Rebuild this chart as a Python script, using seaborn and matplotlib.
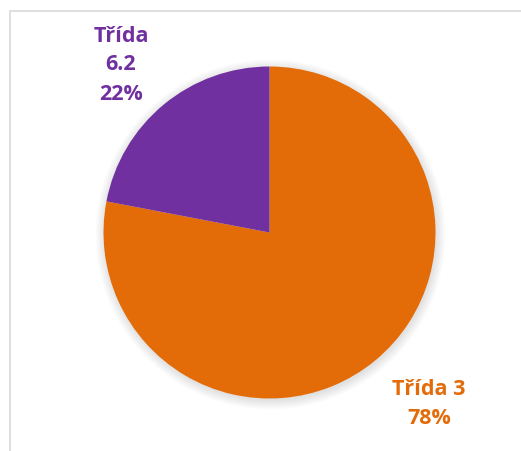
import matplotlib
matplotlib.use("Agg")
import matplotlib.pyplot as plt
import seaborn as sns
from matplotlib.patches import Circle, Rectangle

sns.set_theme(style="white")
plt.rcParams["font.family"] = ["Open Sans", "DejaVu Sans"]

# Share of classes
labels = ["Třída 3", "Třída 6.2"]
shares = [78, 22]
colors = ["#E36C09", "#7030A0"]
label_texts = ["Třída 3\n78%", "Třída\n6.2\n22%"]

W, H = 521, 452
fig = plt.figure(figsize=(W / 100, H / 100), dpi=100)
ax = fig.add_axes([0, 0, 1, 1])
ax.set_xlim(0, W)
ax.set_ylim(0, H)
ax.set_aspect("equal")
ax.axis("off")

# chart area frame
ax.add_patch(Rectangle((9.5, -5), W, H - 11.5 + 5, fill=False,
                       edgecolor="#D9D9D9", linewidth=1.2))

cx, cy, r = 269.5, H - 233.5, 166

# soft outer shadow
for i in range(10):
    ax.add_patch(Circle((cx + 1, cy - 2), r + 9 - i, facecolor="#000000",
                        alpha=0.012, edgecolor="none", zorder=1))

ax.pie(shares, colors=colors, startangle=90, counterclock=False,
       center=(cx, cy), radius=r, frame=True,
       wedgeprops=dict(linewidth=0, zorder=2))
ax.set_xlim(0, W)
ax.set_ylim(0, H)
ax.axis("off")

ax.text(429, H - 404, label_texts[0], color=colors[0], fontsize=15.5,
        fontweight="bold", ha="center", va="center", linespacing=1.5)
ax.text(121, H - 65, label_texts[1], color=colors[1], fontsize=15.5,
        fontweight="bold", ha="center", va="center", linespacing=1.5)

fig.savefig("out.png", dpi=100)
